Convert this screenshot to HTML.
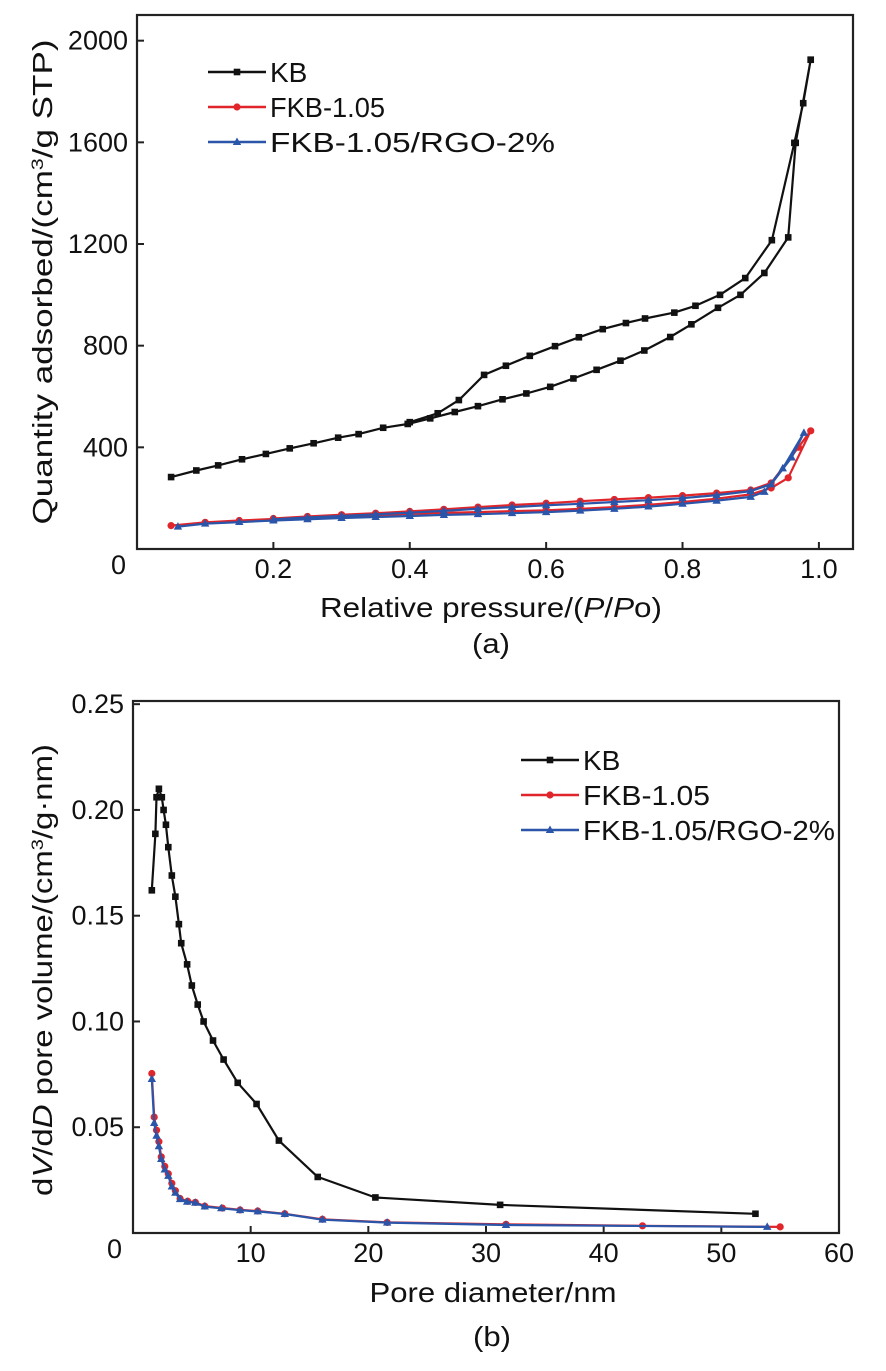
<!DOCTYPE html>
<html><head><meta charset="utf-8"><style>
html,body{margin:0;padding:0;background:#fff;}
svg{display:block;font-family:"Liberation Sans",sans-serif;}
</style></head><body>
<svg id="s" width="886" height="1371" viewBox="0 0 886 1371" xmlns="http://www.w3.org/2000/svg"></svg>
<script>
// ===== Chart (a) data =====
const aXTicks=[0.2,0.4,0.6,0.8,1.0];
const aXTickLabels=["0.2","0.4","0.6","0.8","1.0"];
const aYTicks=[400,800,1200,1600,2000];
const aYTickLabels=["400","800","1200","1600","2000"];
const kbAdsX=[.05,.087,.119,.154,.189,.224,.259,.295,.325,.361,.397,.43,.466,.5,.536,.571,.606,.64,.674,.709,.744,.782,.813,.852,.885,.92,.955,.966,.988];
const kbAdsY=[283,309,329,353,374,396,416,438,452,477,492,514,539,562,589,612,638,671,705,741,781,834,884,949,1000,1086,1226,1598,1925];
const kbDesX=[.988,.977,.964,.931,.892,.855,.819,.788,.745,.717,.683,.648,.613,.576,.541,.509,.472,.441,.40];
const kbDesY=[1925,1754,1598,1215,1066,1000,957,930,907,889,865,833,798,760,721,685,586,534,499];
const fkbX=[.05,.1,.15,.2,.25,.3,.35,.4,.45,.5,.55,.6,.65,.7,.75,.8,.85,.9,.93,.955,.988,.97,.93,.9,.85,.8,.75,.7,.65,.6,.55,.5,.45,.4,.35,.3,.25,.2];
const fkbY=[92,105,112,118,123,128,133,138,142,145,149,152,158,165,174,185,198,215,240,280,465,400,260,232,220,210,202,195,188,180,173,165,156,148,141,135,128,120];
const rgoX=[.06,.1,.15,.2,.25,.3,.35,.4,.45,.5,.55,.6,.65,.7,.75,.8,.85,.9,.92,.947,.978,.96,.93,.9,.85,.8,.75,.7,.65,.6,.55,.5,.45,.4,.35,.3,.25,.2];
const rgoY=[88,100,106,112,117,122,126,130,134,137,141,145,151,158,167,178,190,205,225,317,457,360,255,228,212,200,192,185,178,172,165,158,150,143,136,130,124,117];
// ===== Chart (b) data =====
const bXTicks=[10,20,30,40,50,60];
const bXTickLabels=["10","20","30","40","50","60"];
const bYTicks=[0.05,0.10,0.15,0.20,0.25];
const bYTickLabels=["0.05","0.10","0.15","0.20","0.25"];
const bKbX=[1.6,1.9,2.0,2.2,2.45,2.6,2.8,3.0,3.3,3.6,3.9,4.1,4.6,5.0,5.5,6.0,6.8,7.7,8.9,10.5,12.4,15.7,20.6,31.2,52.9];
const bKbY=[.162,.1887,.206,.21,.206,.2,.193,.1824,.169,.159,.146,.137,.127,.117,.108,.100,.091,.082,.071,.061,.0437,.0265,.0168,.0133,.0091];
const bFkbX=[1.6,1.8,2.0,2.2,2.4,2.7,3.0,3.3,3.6,4.0,4.65,5.3,6.1,7.6,9.1,10.6,12.9,16.1,21.6,31.7,43.3,55];
const bFkbY=[.0754,.0548,.0486,.0432,.036,.0315,.028,.0235,.02,.0163,.015,.0145,.0127,.0118,.0109,.0104,.0091,.0065,.005,.0041,.0034,.0029];
const bRgoX=[1.6,1.8,2.0,2.2,2.4,2.7,3.0,3.3,3.6,4.0,4.6,5.3,6.1,7.5,9.1,10.6,12.9,16.1,21.6,31.7,53.9];
const bRgoY=[.0728,.052,.046,.041,.035,.030,.027,.022,.019,.016,.0148,.0143,.0125,.0117,.0108,.0102,.009,.0063,.0049,.0038,.0029];

const NS="http://www.w3.org/2000/svg";
const svg=document.getElementById('s');
function el(tag,attrs,parent,text){const e=document.createElementNS(NS,tag);for(const k in attrs)e.setAttribute(k,attrs[k]);if(text!==undefined)e.textContent=text;(parent||svg).appendChild(e);return e;}

function chart(cfg){
  const g=el('g',{});
  
  
  const X=v=>cfg.L+(v-cfg.x0)/(cfg.x1-cfg.x0)*(cfg.R-cfg.L);
  const Y=v=>cfg.B-(v-cfg.y0)/(cfg.y1-cfg.y0)*(cfg.B-cfg.T);
  const fr=el('rect',{x:cfg.L,y:cfg.T,width:cfg.R-cfg.L,height:cfg.B-cfg.T,fill:'none',stroke:'#222','stroke-width':2.2},g);
  
  
  cfg.xt.forEach((v,i)=>{
    const t=el('line',{x1:X(v),x2:X(v),y1:cfg.B,y2:cfg.B-7,stroke:'#222','stroke-width':2},g);
    
    
    const l=el('text',{x:X(v),y:cfg.B+29,'font-size':27,'text-anchor':'middle',fill:'#111'},g,cfg.xtl[i]);
    
    
  });
  cfg.yt.forEach((v,i)=>{
    const t=el('line',{x1:cfg.L,x2:cfg.L+7,y1:Y(v),y2:Y(v),stroke:'#222','stroke-width':2},g);
    
    
    const l=el('text',{x:cfg.L-9,y:Y(v)+9,'font-size':27,'text-anchor':'end',fill:'#111'},g,cfg.ytl[i]);
    
    
  });
  const z=el('text',{x:cfg.L-11,y:cfg.B+25,'font-size':27,'text-anchor':'end',fill:'#111'},g,'0');
  
  
  cfg.series.forEach(s=>{
    const sg=el('g',{},g);
    
    
    const pts=s.x.map((v,i)=>X(v).toFixed(1)+','+Y(s.y[i]).toFixed(1)).join(' ');
    const pl=el('polyline',{points:pts,fill:'none',stroke:s.c,'stroke-width':2.2,'stroke-linejoin':'round'},sg);
    
    
    s.x.forEach((v,i)=>{
      const m=marker(s.m,X(v),Y(s.y[i]),s.c,sg);
      
      
    });
  });
  cfg.series.forEach((s,i)=>{
    const y=cfg.legY+i*35;
    const lg=el('g',{},g);
    
    
    el('line',{x1:cfg.legX,x2:cfg.legX+58,y1:y,y2:y,stroke:s.c,'stroke-width':2.6},lg);
    marker(s.m,cfg.legX+29,y,s.c,lg);
    const at={x:cfg.legX+62,y:y+10,'font-size':28,fill:'#111'};
    if(cfg.legW[i]){at.textLength=cfg.legW[i];at.lengthAdjust='spacingAndGlyphs';}
    el('text',at,lg,s.label);
  });
  return g;
}
function marker(type,x,y,c,p){
  if(type==='sq')return el('rect',{x:x-3.3,y:y-3.3,width:6.6,height:6.6,fill:c},p);
  if(type==='ci')return el('circle',{cx:x,cy:y,r:3.6,fill:c},p);
  return el('polygon',{points:`${x},${y-4.5} ${x-4.2},${y+3} ${x+4.2},${y+3}`,fill:c},p);
}

chart({name:'chart-a-isotherm',L:137,R:853,T:15,B:549,x0:0,x1:1.05,y0:0,y1:2101,
  xt:aXTicks,xtl:aXTickLabels,yt:aYTicks,ytl:aYTickLabels,legX:208,legY:72,legW:[0,115,285],
  series:[
    {name:'kb-adsorption',label:'KB',x:kbAdsX.concat(kbDesX),y:kbAdsY.concat(kbDesY),c:'#111',m:'sq'},
    {name:'fkb-105',label:'FKB-1.05',x:fkbX,y:fkbY,c:'#e0262b',m:'ci'},
    {name:'fkb-rgo',label:'FKB-1.05/RGO-2%',x:rgoX,y:rgoY,c:'#2a55a8',m:'tr'}
  ]});
chart({name:'chart-b-pore-distribution',L:133,R:839,T:701,B:1233,x0:0,x1:60,y0:0,y1:0.2515,
  xt:bXTicks,xtl:bXTickLabels,yt:bYTicks,ytl:bYTickLabels,legX:521,legY:760,legW:[0,127,252],
  series:[
    {name:'kb',label:'KB',x:bKbX,y:bKbY,c:'#111',m:'sq'},
    {name:'fkb-105',label:'FKB-1.05',x:bFkbX,y:bFkbY,c:'#e0262b',m:'ci'},
    {name:'fkb-rgo',label:'FKB-1.05/RGO-2%',x:bRgoX,y:bRgoY,c:'#2a55a8',m:'tr'}
  ]});
</script>
<script>
(function(){
const NS="http://www.w3.org/2000/svg";const svg=document.getElementById('s');
function t(attrs,html,name){const e=document.createElementNS(NS,'text');for(const k in attrs)e.setAttribute(k,attrs[k]);e.setAttribute('lengthAdjust','spacingAndGlyphs');e.innerHTML=html;


svg.appendChild(e);}
t({x:491,y:617,'font-size':28,'text-anchor':'middle',fill:'#111',textLength:342},'Relative pressure/(<tspan font-style="italic">P</tspan>/<tspan font-style="italic">P</tspan>o)','x-axis-title-a');
t({x:491,y:653,'font-size':28,'text-anchor':'middle',fill:'#111',textLength:38},'(a)','caption-a');
t({x:52,y:282,'font-size':28,'text-anchor':'middle',fill:'#111',textLength:485,transform:'rotate(-90 52 282)'},'Quantity adsorbed/(cm<tspan baseline-shift="super" font-size="17">3</tspan>/g STP)','y-axis-title-a');
t({x:493,y:1302,'font-size':28,'text-anchor':'middle',fill:'#111',textLength:247},'Pore diameter/nm','x-axis-title-b');
t({x:492,y:1346,'font-size':28,'text-anchor':'middle',fill:'#111',textLength:38},'(b)','caption-b');
t({x:52,y:970,'font-size':28,'text-anchor':'middle',fill:'#111',textLength:452,transform:'rotate(-90 52 970)'},'d<tspan font-style="italic">V</tspan>/d<tspan font-style="italic">D</tspan> pore volume/(cm<tspan baseline-shift="super" font-size="17">3</tspan>/g·nm)','y-axis-title-b');
})();
</script>
</body></html>
